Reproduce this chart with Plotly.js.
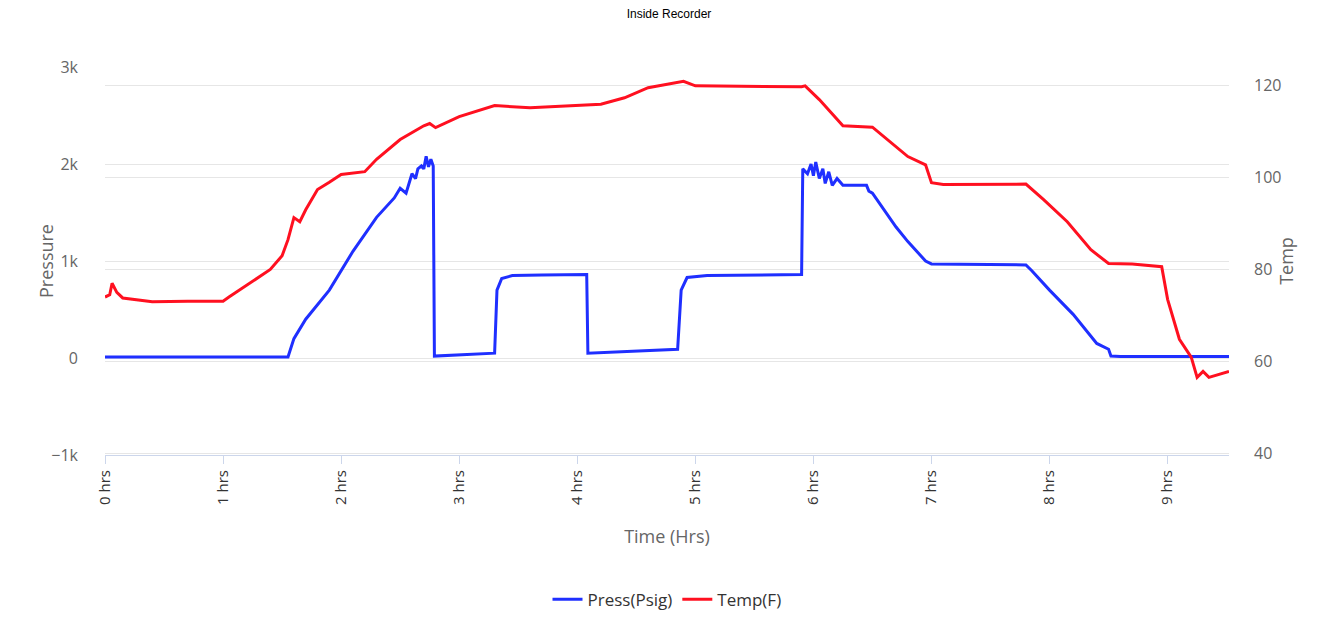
<!DOCTYPE html>
<html>
<head>
<meta charset="utf-8">
<script src="https://cdn.plot.ly/plotly-3.0.1.min.js"></script>
<style>body{margin:0}#chart{width:1338px;height:617px}</style>
</head>
<body>
<div id="chart"></div>
<script>
// Pressure readings (hours, psig)
const pressHrs = [0, 1.55, 1.6, 1.7, 1.9, 2.1, 2.3, 2.45, 2.5, 2.55, 2.6, 2.63, 2.65, 2.68, 2.7, 2.72, 2.74, 2.76, 2.78, 2.79, 3.3, 3.32, 3.36, 3.45, 3.7, 4.08, 4.09, 4.85, 4.88, 4.93, 5.1, 5.5, 5.9, 5.91, 5.95, 5.98, 6.0, 6.02, 6.05, 6.08, 6.1, 6.13, 6.16, 6.2, 6.25, 6.45, 6.47, 6.5, 6.6, 6.7, 6.8, 6.9, 6.95, 7.0, 7.8, 7.85, 8.0, 8.2, 8.4, 8.5, 8.52, 8.6, 9.52];
const pressVals = [10, 10, 200, 400, 700, 1100, 1450, 1650, 1750, 1700, 1900, 1850, 1950, 1980, 1950, 2080, 1970, 2050, 1980, 20, 50, 700, 820, 850, 855, 860, 50, 90, 700, 830, 850, 855, 860, 1950, 1900, 2000, 1880, 2020, 1850, 1950, 1800, 1920, 1780, 1850, 1780, 1780, 1720, 1700, 1520, 1350, 1200, 1060, 1000, 970, 960, 900, 700, 450, 150, 90, 20, 15, 15];

// Temperature readings (hours, F)
const tempHrs = [0, 0.04, 0.06, 0.1, 0.15, 0.4, 0.7, 1.0, 1.05, 1.2, 1.4, 1.5, 1.55, 1.6, 1.65, 1.7, 1.8, 1.9, 2.0, 2.2, 2.3, 2.5, 2.7, 2.75, 2.8, 3.0, 3.3, 3.6, 4.2, 4.4, 4.6, 4.9, 5.0, 5.9, 5.93, 6.05, 6.25, 6.5, 6.65, 6.8, 6.95, 7.0, 7.1, 7.8, 7.95, 8.15, 8.35, 8.5, 8.7, 8.95, 9.0, 9.1, 9.2, 9.25, 9.3, 9.35, 9.52];
const tempVals = [74, 74.5, 77, 75, 73.8, 73, 73.1, 73.1, 74, 76.5, 80, 83, 86.5, 91.3, 90.4, 93, 97.4, 99, 100.7, 101.3, 104, 108.3, 111.3, 111.8, 110.9, 113.3, 115.7, 115.2, 116, 117.4, 119.6, 121, 120, 119.8, 120, 117, 111.3, 111, 107.8, 104.6, 102.8, 98.9, 98.5, 98.6, 95.2, 90.4, 84.3, 81.3, 81.2, 80.6, 73.5, 64.8, 60.9, 56.5, 57.8, 56.5, 57.8];

const tickVals = [0, 1, 2, 3, 4, 5, 6, 7, 8, 9];
const tickText = tickVals.map(h => h + " hrs");

const font = "Open Sans, sans-serif";
const grey = "#666";

Plotly.newPlot("chart", [
    {x: pressHrs, y: pressVals, name: "Press(Psig)", mode: "lines",
     line: {color: "#1f2fff", width: 3}},
    {x: tempHrs, y: tempVals, name: "Temp(F)", mode: "lines", yaxis: "y2",
     line: {color: "#ff1020", width: 3}}
], {
    width: 1338, height: 617,
    margin: {l: 105, r: 109, t: 67, b: 162},
    title: {text: "Inside Recorder", font: {family: "Arial", size: 12, color: "#000"}, y: 0.985, yanchor: "top"},
    font: {family: font, color: grey},
    showlegend: true,
    legend: {orientation: "h", x: 0.5, xanchor: "center", yref: "container", y: 0.028, yanchor: "middle",
             font: {size: 17, color: "#333"}},
    xaxis: {range: [0, 9.52], tickvals: tickVals, ticktext: tickText, tickangle: -90, automargin: false,
            tickfont: {size: 15, color: "#333"}, ticks: "outside", ticklen: 8, tickcolor: "#ccd6eb",
            showgrid: false, zeroline: false, showline: true, linecolor: "#ccd6eb",
            title: {text: "Time (Hrs)", font: {size: 18, color: grey}, standoff: 26}},
    yaxis: {range: [-1000, 3000], tickvals: [-1000, 0, 1000, 2000, 3000], automargin: false,
            ticktext: ["−1k", "0", "1k", "2k", "3k"], tickfont: {size: 16, color: grey},
            gridcolor: "#e6e6e6", zeroline: false, ticklabelstandoff: 26,
            title: {text: "Pressure", font: {size: 18, color: grey}}},
    yaxis2: {overlaying: "y", side: "right", range: [39.6, 124.1], tickvals: [40, 60, 80, 100, 120],
             automargin: false, tickfont: {size: 16, color: grey}, gridcolor: "#e6e6e6", zeroline: false,
             ticklabelstandoff: 24, title: {text: "Temp", font: {size: 18, color: grey}}}
}, {displayModeBar: false});
</script>
</body>
</html>
